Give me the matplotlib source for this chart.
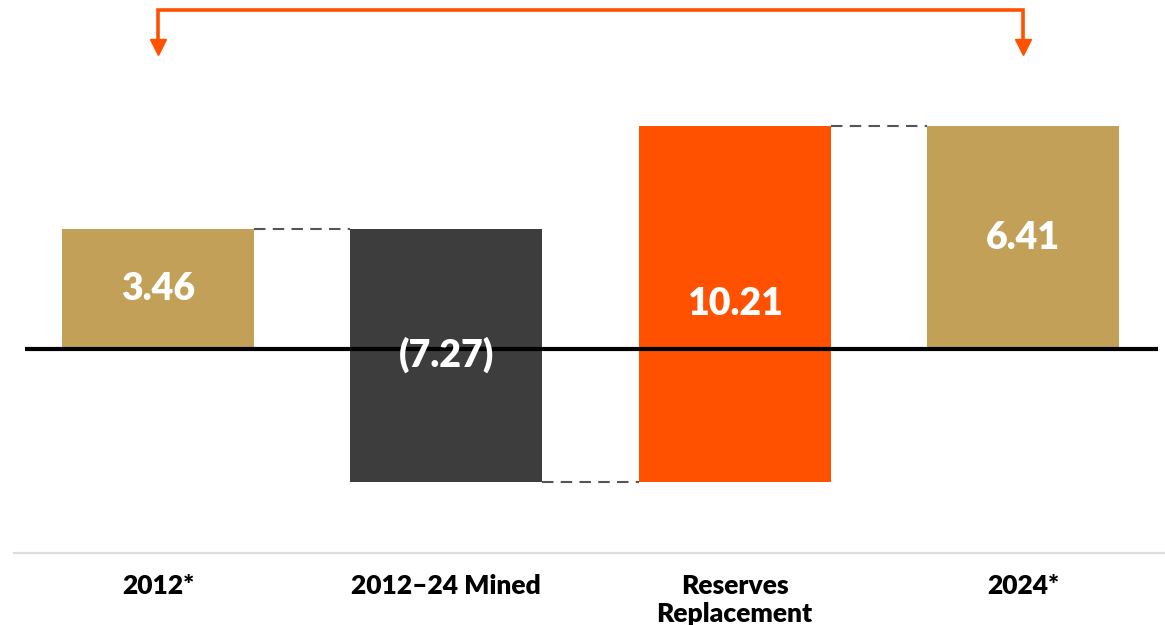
import matplotlib.pyplot as plt
import numpy as np

plt.rcParams['font.family'] = ['Lato', 'DejaVu Sans']

# data
categories = ['2012*', '2012–24 Mined', 'Reserves\nReplacement', '2024*']
values = [3.46, -7.27, 10.21, 6.41]
is_total = [True, False, False, True]
colors = ['#C2A057', '#3D3D3D', '#FF5100', '#C2A057']

# waterfall bottoms / tops
bottoms, tops = [], []
running = 0.0
for v, tot in zip(values, is_total):
    if tot:
        b, t = 0.0, v
        running = v
    else:
        b, t = running, running + v
        running = running + v
    bottoms.append(min(b, t))
    tops.append(max(b, t))

fig = plt.figure(figsize=(11.65, 6.25), dpi=100)
ax = fig.add_axes([0, 0, 1, 1])
ax.set_xlim(-0.548, 3.493)
ax.set_ylim(-7.93, 10.03)
ax.axis('off')

x = np.arange(len(values))
w = 0.666
heights = [t - b for b, t in zip(bottoms, tops)]
ax.bar(x, heights, bottom=bottoms, width=w, color=colors, zorder=2)

# value labels
for xi, v, b, h in zip(x, values, bottoms, heights):
    txt = f'({abs(v):.2f})' if v < 0 else f'{v:.2f}'
    ax.text(xi, b + h / 2, txt, color='white', fontsize=27, fontweight='heavy',
            ha='center', va='center', zorder=4)

# dashed connectors between bars
levels = []
running = 0.0
for v, tot in zip(values, is_total):
    running = v if tot else running + v
    levels.append(running)
for i in range(len(values) - 1):
    ax.plot([x[i] + w / 2, x[i + 1] - w / 2], [levels[i], levels[i]],
            color='#555555', lw=1.5, dashes=(5.5, 3.5), zorder=1)

# zero line
ax.plot([-0.461, 3.469], [0, 0], color='black', lw=3, zorder=3,
        solid_capstyle='butt')

# light separator above category labels
ax.plot([0.012, 1.0], [0.115, 0.115], transform=ax.transAxes,
        color='#DCDCDC', lw=1.6)

# category labels
for xi, c in zip(x, categories):
    ax.text(xi, 0.081, c, transform=ax.get_xaxis_transform(),
            ha='center', va='top', fontsize=19, fontweight='heavy',
            color='black', linespacing=1.2)

# bracket arrow linking start and end
tr = ax.get_xaxis_transform()
orange = '#FF5100'
y_top, y_low = 1 - 10 / 625, 1 - 42 / 625
ax.plot([x[0], x[0], x[3], x[3]], [y_low, y_top, y_top, y_low],
        transform=tr, color=orange, lw=2.6, solid_joinstyle='miter',
        clip_on=False)
ax.plot([x[0], x[3]], [1 - 47 / 625] * 2, transform=tr, ls='none',
        marker='v', ms=11, color=orange, clip_on=False)

fig.savefig('out.png', dpi=100)
